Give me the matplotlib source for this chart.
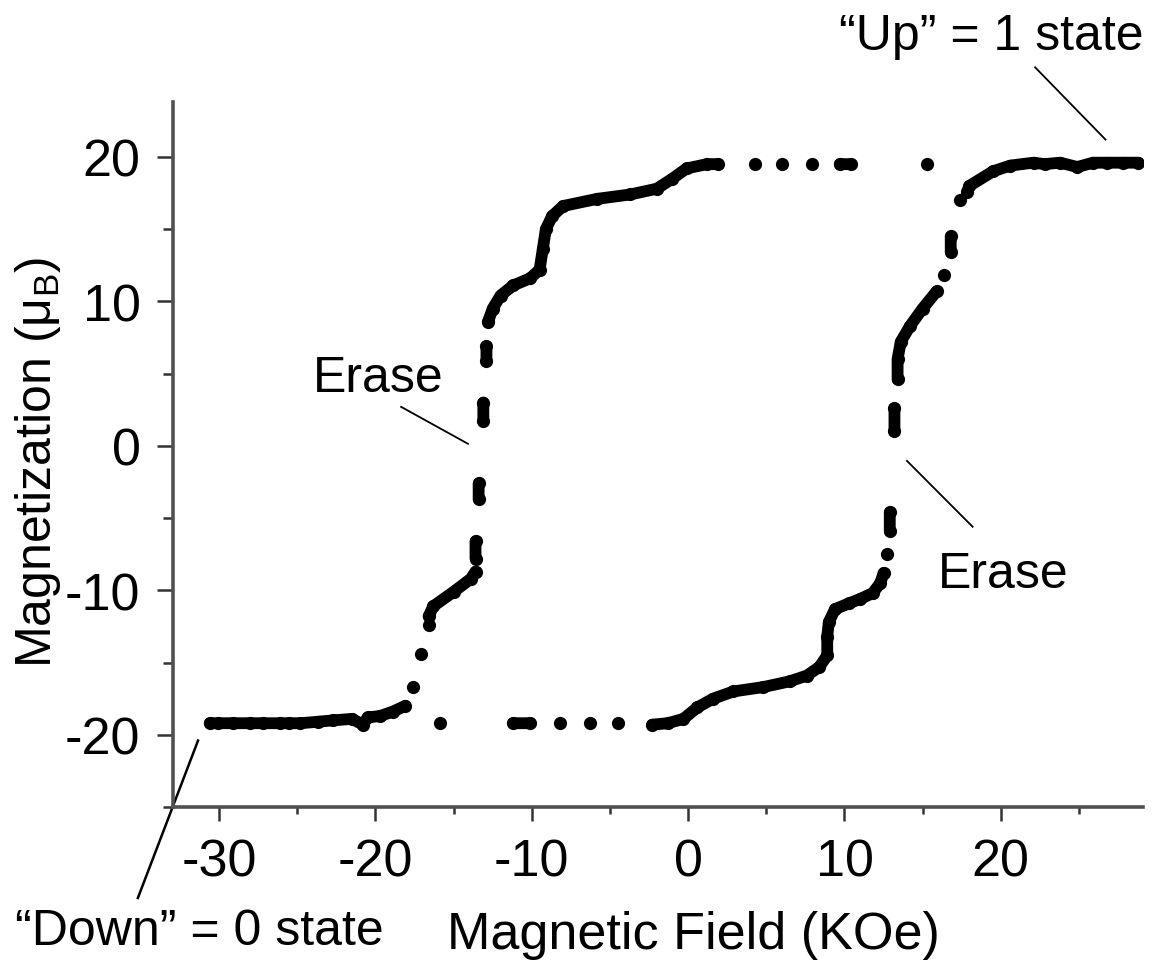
import numpy as np
import matplotlib
matplotlib.use("Agg")
import matplotlib.pyplot as plt
from matplotlib.ticker import MultipleLocator

plt.rcParams['font.family'] = ['Liberation Sans', 'DejaVu Sans']
plt.rcParams['mathtext.fontset'] = 'custom'
plt.rcParams['mathtext.rm'] = 'Liberation Sans'
plt.rcParams['axes.unicode_minus'] = False

nan = np.nan

# sweep -30 -> +30 kOe (nan = gap between measured points)
asc_H = [-15.9, nan, -11.2, -10.1, nan, -8.2, nan, -6.3, nan, -4.5, nan,
         -2.3, -1.3, -0.3, 0.6, 1.6, 2.9, 4.8, 6.5, 7.6, 8.4, 8.9, 8.9, 9.0,
         9.4, 10.3, 11.0, 11.8, 12.3, 12.5, nan,
         12.7, nan, 12.9, 12.9, nan, 13.2, 13.2, nan,
         13.4, 13.4, 13.6, 14.2, 15.0, 15.9, nan,
         16.4, nan, 16.8, 16.8, nan, 17.4, nan,
         17.85, 18.0, 19.5, 20.6, 22.1, 22.8, 23.8, 24.9, 25.9, 26.8, 27.8, 28.8]
asc_M = [-19.2, nan, -19.2, -19.2, nan, -19.2, nan, -19.2, nan, -19.2, nan,
         -19.3, -19.2, -18.9, -18.1, -17.5, -17.0, -16.7, -16.3, -15.9, -15.3, -14.5, -13.2, -12.2,
         -11.3, -10.9, -10.6, -10.2, -9.5, -8.8, nan,
         -7.5, nan, -4.6, -5.9, nan, 2.6, 1.0, nan,
         4.6, 6.0, 7.2, 8.3, 9.5, 10.7, nan,
         11.8, nan, 14.5, 13.4, nan, 17.0, nan,
         17.6, 18.0, 19.0, 19.4, 19.6, 19.5, 19.6, 19.3, 19.6, 19.6, 19.6, 19.6]

# sweep +30 -> -30 kOe
desc_H = [15.3, nan, 10.4, 9.7, nan, 7.9, nan, 6.0, nan, 4.3, nan,
          1.9, 1.2, -0.1, -1.0, -2.0, -3.7, -5.8, -8.0, -8.7, -9.1, -9.3, -9.5,
          -10.1, -11.2, -12.0, -12.5, -12.8, nan,
          -12.9, -12.9, nan, -13.1, -13.1, nan, -13.4, -13.4, nan, -13.6, -13.6, nan,
          -13.6, -13.9, -15.0, -16.3, -16.6, nan,
          -16.6, nan, -17.1, nan, -17.6, nan,
          -18.1, -18.9, -19.7, -20.5, -20.8, -21.5, -22.7, -23.7, -24.8, -25.5,
          -26.1, -27.2, -28.0, -29.1, -30.1, -30.6]
desc_M = [19.5, nan, 19.5, 19.5, nan, 19.5, nan, 19.5, nan, 19.5, nan,
          19.5, 19.5, 19.2, 18.5, 17.8, 17.4, 17.1, 16.6, 15.9, 15.0, 13.6, 12.2,
          11.6, 11.1, 10.4, 9.5, 8.6, nan,
          6.9, 5.9, nan, 3.0, 1.7, nan, -2.6, -3.7, nan, -6.6, -7.8, nan,
          -8.7, -9.2, -10.1, -11.1, -11.8, nan,
          -12.4, nan, -14.4, nan, -16.7, nan,
          -18.0, -18.4, -18.7, -18.8, -19.3, -18.9, -19.0, -19.1, -19.2, -19.2,
          -19.2, -19.2, -19.2, -19.2, -19.2, -19.2]

x_ticks = [-30, -20, -10, 0, 10, 20]
y_ticks = [-20, -10, 0, 10, 20]

fig = plt.figure(figsize=(11.52, 9.70), dpi=100)
ax = fig.add_axes([0.1502, 0.167, 0.842, 0.7268])

for H, M in [(asc_H, asc_M), (desc_H, desc_M)]:
    ax.plot(H, M, '-o', color='black', lw=8.5, ms=9.5, mew=0,
            solid_capstyle='round', solid_joinstyle='round')

ax.set_xlim(-32.95, 29.1)
ax.set_ylim(-25, 23.8)
ax.set_xticks(x_ticks)
ax.set_yticks(y_ticks)
ax.xaxis.set_minor_locator(MultipleLocator(5))
ax.yaxis.set_minor_locator(MultipleLocator(5))

for s in ['top', 'right']:
    ax.spines[s].set_visible(False)
for s in ['left', 'bottom']:
    ax.spines[s].set_linewidth(2.6)
    ax.spines[s].set_color('#505050')

ax.tick_params(axis='y', which='major', length=11.5, width=1.8, color='#333333',
               labelsize=37.5, pad=12)
ax.tick_params(axis='y', which='minor', length=7, width=1.8, color='#333333')
ax.tick_params(axis='x', which='major', length=10, width=1.8, color='#333333',
               labelsize=37.5, pad=12)
ax.tick_params(axis='x', which='minor', length=5, width=1.8, color='#333333')

ax.set_xlabel('Magnetic Field (KOe)', fontsize=37.5)
ax.xaxis.set_label_coords(0.536, -0.146)
ax.set_ylabel('Magnetization (μ$_\\mathregular{B}$)', fontsize=36)
ax.yaxis.set_label_coords(-0.113, 0.49)

# annotations
ax.text(29.1, 27.5, '\u201cUp\u201d = 1 state', fontsize=36, ha='right', va='baseline')
ax.plot([22.2, 26.7], [26.2, 21.2], color='black', lw=1.3, clip_on=False)

ax.text(-24.0, 3.8, 'Erase', fontsize=36, ha='left', va='baseline')
ax.plot([-18.36, -14.08], [2.7, 0.14], color='black', lw=1.3)

ax.text(16.0, -9.76, 'Erase', fontsize=36, ha='left', va='baseline')
ax.plot([14.0, 18.2], [-1.04, -5.6], color='black', lw=1.3)

ax.text(-43.06, -34.5, '\u201cDown\u201d = 0 state', fontsize=36, ha='left', va='baseline')
ax.plot([-31.35, -35.2], [-20.4, -31.3], color='black', lw=1.8, clip_on=False)

fig.savefig('out.png', dpi=100)
